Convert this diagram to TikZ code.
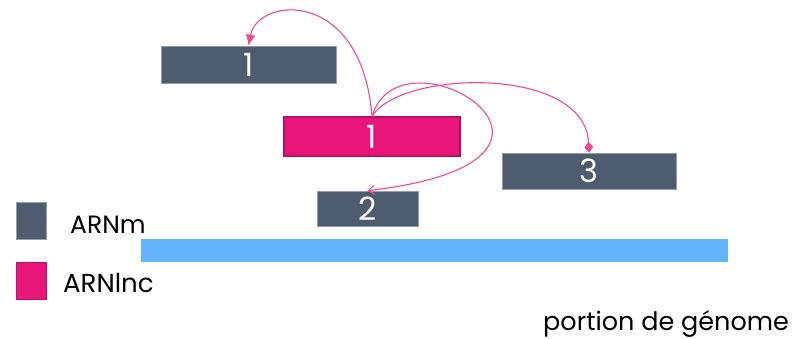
\documentclass[tikz,border=0pt]{standalone}
\usepackage{fontspec}
\setmainfont{Poppins}
\usetikzlibrary{arrows.meta}
\definecolor{gris}{HTML}{4F5B6E}
\definecolor{rose}{HTML}{E8157A}
\definecolor{rosefonce}{HTML}{B3105E}
\definecolor{bleu}{HTML}{63B4F8}
\definecolor{trait}{HTML}{EE4A92}
\begin{document}
\begin{tikzpicture}[x=1pt,y=-1pt,
  arnm/.style={fill=gris,draw=gris!60!white,line width=.6pt,inner sep=0pt,
    text=white,font=\fontsize{32}{32}\selectfont},
  arnlnc/.style={arnm,fill=rose,draw=rosefonce,line width=1.2pt},
  lien/.style={draw=trait,line width=1.1pt}]
\useasboundingbox (0,0) rectangle (795,338);
%
% les boites
\node[arnm,minimum width=175pt,minimum height=37pt] (m1) at (248.5,64.5) {1};
\node[arnlnc,minimum width=176pt,minimum height=39pt] (lnc) at (372,136.5) {1};
\node[arnm,minimum width=174pt,minimum height=36pt] (m3) at (589,171) {3};
\node[arnm,minimum width=101pt,minimum height=35pt] (m2) at (367.5,208.5) {2};
\node[fill=bleu,minimum width=587pt,minimum height=23pt,inner sep=0pt] (genome) at (434.5,250.5) {};
%
% legende
\node[arnm,minimum width=30pt,minimum height=37pt] (legm) at (31,220.5) {};
\node[arnlnc,line width=.6pt,minimum width=30pt,minimum height=37pt] (leglnc) at (31,280.5) {};
\node[anchor=base west,inner sep=0pt,font=\fontsize{25}{25}\selectfont] (txtm) at (70,233) {ARNm};
\node[anchor=base west,inner sep=0pt,font=\fontsize{26}{26}\selectfont] (txtlnc) at (63,292) {ARNlnc};
\node[anchor=base west,inner sep=0pt,font=\fontsize{25.5}{25.5}\selectfont] (txtgen) at (543,330) {portion de génome};
%
% liens
\draw[lien,-{Latex[length=11pt,width=10pt]}] (lnc.north) .. controls (362,-12) and (258,-4) .. (m1.north);
\draw[lien,-{Straight Barb[length=6pt,width=9pt]}] (lnc.north) .. controls (400,20) and (630,160) .. (m2.north);
\draw[lien,-{Diamond[length=11pt,width=9pt]}] (lnc.north) .. controls (400,70) and (585,65) .. (m3.north);
\end{tikzpicture}
\end{document}
